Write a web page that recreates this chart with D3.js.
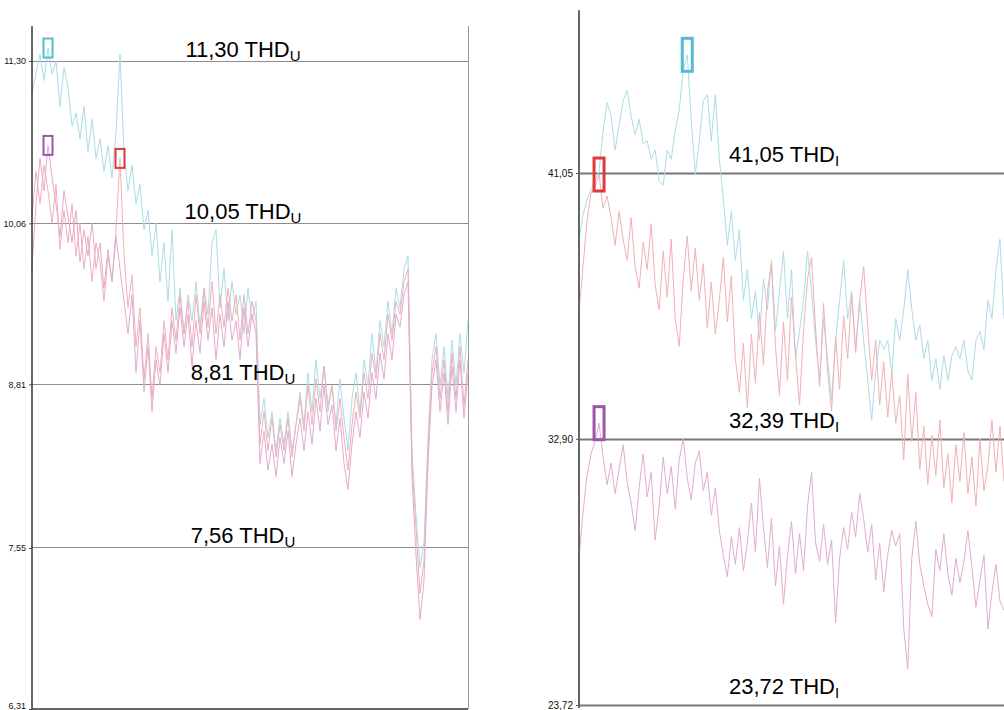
<!DOCTYPE html>
<html>
<head>
<meta charset="utf-8">
<script src="https://cdn.jsdelivr.net/npm/d3@7"></script>
<style>
	body { margin: 0; background: #fff; }
	svg { display: block; font-family: "Liberation Sans", Arial, sans-serif; }
	.series { fill: none; stroke-width: 1; stroke-linejoin: round; }
	.refline { stroke: #8a8a8a; stroke-width: 1; }
	.reflabel { font-size: 22px; fill: #000; }
	.tick text { fill: #111; }
</style>
</head>
<body>
<svg id="chart" width="1004" height="710"></svg>
<script>
"use strict";

// THD_U panel (voltage), three phases
const thdU_cyan = [11.05,11.2,11.35,11.15,11.4,11.2,11.3,10.95,11.25,11.1,
	10.8,10.9,10.7,10.95,10.6,10.85,10.55,10.7,10.45,10.65,
	10.4,10.75,11.35,10.6,10.3,10.5,10.2,10.35,10.0,10.15,
	9.8,10.05,9.6,9.9,9.45,10.0,9.3,9.55,9.2,9.5,
	9.3,9.6,9.25,9.55,9.35,9.9,10.0,9.4,9.7,9.3,
	9.6,9.35,9.5,9.2,9.55,9.3,9.45,8.5,8.7,8.4,
	8.6,8.3,8.55,8.35,8.6,8.3,8.5,8.75,8.5,8.9,
	8.6,9.0,8.7,8.95,8.6,8.8,8.5,8.85,8.55,8.3,
	8.7,8.9,8.6,9.0,8.8,9.2,8.9,9.3,9.1,9.45,
	9.2,9.55,9.4,9.7,9.8,8.3,7.8,7.4,7.6,8.4,
	9.0,9.2,8.8,9.1,8.7,9.15,8.8,9.2,8.9,9.3];
const thdU_purple = [9.7,10.2,10.55,10.3,10.65,10.4,10.2,9.95,10.3,10.1,
	9.9,10.15,9.75,10.0,9.8,10.05,9.7,9.9,9.55,9.85,
	9.6,9.95,9.7,9.45,9.2,9.5,8.9,9.3,8.75,9.1,
	8.6,9.0,8.8,9.2,8.9,9.3,9.05,9.4,9.1,9.35,
	8.95,9.3,9.05,9.45,9.15,9.4,9.0,9.35,9.1,9.45,
	9.15,9.3,9.0,9.4,9.1,9.35,9.2,8.2,8.45,8.15,
	8.35,8.1,8.4,8.2,8.45,8.1,8.35,8.55,8.3,8.6,
	8.35,8.7,8.45,8.8,8.5,8.65,8.3,8.55,8.2,8.0,
	8.35,8.6,8.4,8.75,8.55,8.9,8.7,9.05,8.85,9.2,
	9.0,9.35,9.25,9.5,9.6,8.1,7.5,7.0,7.3,8.2,
	8.8,9.0,8.6,8.9,8.5,8.95,8.6,9.0,8.55,8.9];
const thdU_red = [10.1,10.45,10.2,10.5,10.3,10.05,10.35,9.85,10.15,9.9,
	10.2,9.8,10.05,9.7,9.95,9.6,9.9,9.75,9.45,9.8,
	9.6,10.0,10.55,9.8,9.4,9.65,9.1,9.4,8.85,9.2,
	8.7,9.1,8.9,9.3,9.0,9.4,9.15,9.5,9.2,9.45,
	9.1,9.5,9.2,9.55,9.25,9.6,9.2,9.5,9.25,9.55,
	9.3,9.5,9.15,9.5,9.2,9.45,9.3,8.35,8.6,8.3,
	8.55,8.25,8.5,8.3,8.55,8.25,8.5,8.7,8.45,8.8,
	8.5,8.85,8.6,8.95,8.65,8.8,8.45,8.7,8.4,8.15,
	8.5,8.75,8.55,8.9,8.7,9.05,8.85,9.2,9.0,9.35,
	9.15,9.45,9.35,9.6,9.7,8.2,7.7,7.2,7.45,8.3,
	8.9,9.1,8.7,9.0,8.6,9.05,8.7,9.1,8.65,9.0];

// THD_I panel (current), three phases
const thdI_cyan = [38.87,39.68,40.2,40.5,40.8,41.1,42.4,43.35,42.9,41.8,
	42.6,43.4,43.75,42.9,42.3,42.8,42.0,42.1,41.5,41.8,
	40.8,40.65,41.8,41.5,42.45,43.1,44.4,44.9,42.8,41.0,
	42.1,43.4,43.6,42.1,43.6,41.5,40.2,38.7,39.8,38.2,
	39.2,36.9,37.9,36.3,37.2,35.6,37.6,36.6,38.2,35.9,
	37.2,38.5,36.3,37.9,35.0,35.9,36.9,38.5,37.2,35.6,
	34.3,36.3,35.0,33.65,35.6,36.9,38.2,36.3,37.2,35.3,
	36.9,35.6,34.3,33.0,34.6,35.6,35.3,35.6,34.5,36.3,
	35.6,36.6,37.9,36.6,35.6,36.1,35.0,35.6,34.3,35.0,
	34.0,35.1,34.3,35.1,35.4,35.0,35.6,34.6,34.3,35.6,
	35.9,35.3,36.9,36.3,37.9,38.9,36.3];
const thdI_red = [36.5,38.0,39.5,40.4,40.6,41.0,39.9,40.3,39.6,38.7,
	39.8,38.9,38.2,39.6,38.0,37.3,38.8,37.9,39.4,37.4,
	36.6,38.5,37.0,38.9,36.3,35.4,37.6,39.0,37.2,38.6,
	36.9,38.1,36.0,37.5,35.8,36.9,38.3,36.2,37.7,35.0,
	33.9,35.5,33.4,35.8,34.2,36.5,34.8,37.2,38.1,35.4,
	33.8,36.2,34.3,37.0,35.1,33.5,35.9,37.6,38.3,36.0,
	34.1,36.8,34.6,33.3,35.7,34.0,36.4,35.0,37.1,35.2,
	36.9,38.0,36.1,34.3,35.6,33.5,34.9,33.1,34.6,32.9,
	33.8,31.7,34.5,32.3,33.9,31.4,32.8,30.9,32.5,31.2,
	33.0,30.8,31.9,30.3,32.2,31.0,32.6,30.6,31.8,30.2,
	32.4,30.7,31.5,33.0,31.3,32.8,31.0];
const thdI_purple = [28.5,30.0,31.2,31.9,32.3,32.9,31.8,30.9,31.6,30.6,
	31.4,32.2,31.0,30.3,29.4,30.8,31.9,30.5,31.3,29.1,
	30.2,31.8,30.6,31.5,30.1,31.7,32.4,31.1,30.4,31.6,
	32.0,30.7,31.3,29.9,30.8,29.4,28.6,27.9,29.2,28.3,
	29.5,28.1,29.0,30.3,28.7,31.1,29.5,28.2,29.8,27.6,
	28.9,27.0,28.6,29.7,28.0,29.3,28.1,30.2,31.3,29.0,
	28.4,29.6,28.3,29.1,26.4,28.5,29.5,28.8,30.0,29.2,
	30.6,29.8,28.7,29.6,27.8,29.0,27.4,28.6,29.4,28.9,
	29.3,26.2,24.9,28.5,29.7,28.3,27.6,27.0,26.6,28.8,
	28.1,29.3,28.0,27.3,28.5,27.7,28.4,29.4,28.2,26.9,
	27.8,28.6,26.2,27.4,28.3,27.1,26.8];

// reference levels, label texts and axis tick texts
const refU = [11.30, 10.05, 8.81, 7.56];
const refU_labels = ["11,30", "10,05", "8,81", "7,56"];
const tickU = [11.30, 10.05, 8.81, 7.55, 6.31];
const tickU_labels = ["11,30", "10,06", "8,81", "7,55", "6,31"];

const refI = [41.05, 32.39, 23.72];
const refI_labels = ["41,05", "32,39", "23,72"];
const tickI = [41.05, 32.39, 23.72];
const tickI_labels = ["41,05", "32,90", "23,72"];

const colors = { cyan: "#abdde6", purple: "#e3abd2", red: "#f3b0b5" };
const markcolors = { cyan: "#55bcd0", purple: "#9c55a8", red: "#e03a3a" };

const svg = d3.select("#chart");

function drawPanel(opt) {
	let g = svg.append("g");
	let x = d3.scaleLinear().domain([0, opt.series[0].values.length - 1]).range(opt.xrange);
	let y = d3.scaleLinear().domain(opt.ydomain).range(opt.yrange);

	// reference lines
	g.selectAll(".refline")
		.data(opt.refs)
		.enter()
		.append("line")
		.classed("refline", true)
		.attr("x1", opt.xrange[0])
		.attr("x2", opt.right)
		.attr("y1", d=>Math.round(y(d)) + 0.5)
		.attr("y2", d=>Math.round(y(d)) + 0.5)
		.style("stroke", opt.refcolor)
		.style("stroke-width", opt.refwidth);

	// series lines
	let line = d3.line()
		.x((d,i)=>x(i))
		.y(d=>y(d));
	g.selectAll(".series")
		.data(opt.series)
		.enter()
		.append("path")
		.classed("series", true)
		.attr("stroke", d=>colors[d.name])
		.attr("d", d=>line(d.values));

	// peak markers
	g.selectAll(".marker")
		.data(opt.series)
		.enter()
		.append("rect")
		.classed("marker", true)
		.attr("x", d=>x(d3.maxIndex(d.values)) - opt.mw / 2)
		.attr("y", d=>y(d3.max(d.values)) - opt.mh / 2)
		.attr("width", opt.mw)
		.attr("height", opt.mh)
		.attr("fill", "none")
		.attr("stroke", d=>markcolors[d.name])
		.attr("stroke-width", opt.msw);

	// reference labels
	let labels = g.selectAll(".reflabel")
		.data(opt.refs)
		.enter()
		.append("text")
		.classed("reflabel", true)
		.attr("x", opt.labelx)
		.attr("y", d=>y(d) - opt.labeldy)
		.attr("text-anchor", "middle");
	labels.append("tspan").text((d,i)=>opt.reflabels[i] + " THD");
	labels.append("tspan")
		.attr("font-size", "15px")
		.attr("dy", 4)
		.text(opt.sub);

	// axis
	let axis = d3.axisLeft(y)
		.tickValues(opt.ticks)
		.tickSize(3)
		.tickFormat((d,i)=>opt.ticklabels[i]);
	let ag = g.append("g")
		.attr("transform", `translate(${opt.xrange[0]}, 0)`)
		.call(axis);
	ag.select(".domain").remove();
	ag.selectAll("text").attr("font-size", opt.tickfont).attr("font-family", "Liberation Sans, Arial, sans-serif");
	// lowest tick label sits on the bottom edge, nudge it up a little
	ag.selectAll(".tick text").filter(d=>d === opt.ydomain[0] && opt.nudge).attr("dy", "-0.1em");
	ag.selectAll("line").attr("stroke", "#555");
	g.append("line")
		.attr("x1", opt.xrange[0]).attr("x2", opt.xrange[0])
		.attr("y1", y(opt.ytop)).attr("y2", y(opt.ybottom))
		.attr("stroke", opt.axiscolor)
		.attr("stroke-width", opt.axiswidth);
	return {g, x, y};
}

let left = drawPanel({
	series: [
		{name: "cyan", values: thdU_cyan},
		{name: "red", values: thdU_red},
		{name: "purple", values: thdU_purple}
	],
	xrange: [32, 468],
	right: 468,
	ydomain: [6.31, 11.30],
	yrange: [709, 61],
	ytop: 11.57,
	ybottom: 6.31,
	refs: refU,
	reflabels: refU_labels,
	ticks: tickU,
	ticklabels: tickU_labels,
	sub: "U",
	labelx: 243,
	labeldy: 4,
	refcolor: "#8c8c8c",
	refwidth: 1,
	mw: 9, mh: 19, msw: 2,
	tickfont: "9px",
	nudge: true,
	axiscolor: "#333",
	axiswidth: 1.5
});
// frame of the left panel: bottom and right edges
left.g.append("line")
	.attr("x1", 32).attr("x2", 468)
	.attr("y1", left.y(6.31)).attr("y2", left.y(6.31))
	.attr("stroke", "#333").attr("stroke-width", 1.5);
left.g.append("line")
	.attr("x1", 468.5).attr("x2", 468.5)
	.attr("y1", left.y(11.57)).attr("y2", left.y(6.31))
	.attr("stroke", "#999");

drawPanel({
	series: [
		{name: "cyan", values: thdI_cyan},
		{name: "red", values: thdI_red},
		{name: "purple", values: thdI_purple}
	],
	xrange: [579, 1004],
	right: 1004,
	ydomain: [23.72, 41.05],
	yrange: [705, 173],
	ytop: 46.35,
	ybottom: 23.62,
	refs: refI,
	reflabels: refI_labels,
	ticks: tickI,
	ticklabels: tickI_labels,
	sub: "I",
	labelx: 784,
	labeldy: 11,
	refcolor: "#777",
	refwidth: 2,
	mw: 10, mh: 33, msw: 3,
	tickfont: "10px",
	nudge: false,
	axiscolor: "#666",
	axiswidth: 2
});
</script>
</body>
</html>
